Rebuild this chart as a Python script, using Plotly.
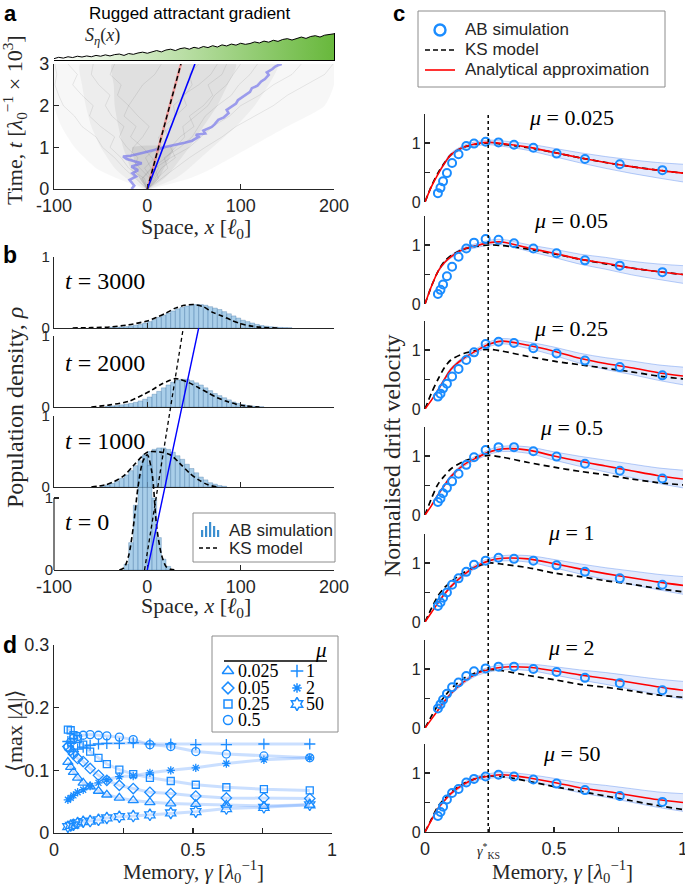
import plotly.graph_objects as go

W, H = 685, 888
SANS = "Liberation Sans"
SERIF = "Liberation Serif"
INK = "#262626"
DOT_BLUE = "#1a8cff"

# ======================= DATA =======================
# ---- panel a : rugged attractant gradient S_eta(x) ----
S_X = list(range(-100, 201, 5))
S_ETA = [0.05, 0.10, 0.07, 0.12, 0.09, 0.14, 0.11, 0.15, 0.12, 0.17, 0.14, 0.19, 0.15, 0.20, 0.22,
         0.17, 0.24, 0.21, 0.26, 0.29, 0.25, 0.31, 0.35, 0.30, 0.37, 0.40, 0.35, 0.42, 0.45, 0.40,
         0.47, 0.43, 0.50, 0.46, 0.53, 0.48, 0.56, 0.52, 0.59, 0.55, 0.62, 0.58, 0.61, 0.67, 0.63,
         0.70, 0.66, 0.73, 0.69, 0.76, 0.79, 0.74, 0.81, 0.85, 0.80, 0.87, 0.90, 0.85, 0.92, 0.94, 0.97]

# ---- panel a : trajectory cloud envelopes (x at given times, t in 10^3) ----
CLOUD_T = [0, 0.25, 0.5, 1.0, 1.5, 2.0, 2.5, 3.0]
OUTER_L = [-4, -32, -55, -78, -92, -100, -100, -100]
OUTER_R = [4, 45, 70, 110, 150, 190, 200, 200]
MID_L = [-3, -22, -35, -50, -60, -66, -70, -72]
MID_R = [3, 30, 45, 70, 95, 115, 130, 140]
INNER_L = [-2, -12, -18, -26, -31, -35, -36, -38]
INNER_R = [2, 18, 28, 45, 60, 75, 86, 95]
CORE_L = [-1, -8, -12, -15, -16]
CORE_R = [1, 12, 18, 25, 28]
CORE_T = [0, 0.25, 0.5, 0.8, 1.0]

TRAJ_T = [0, 0.25, 0.5, 0.75, 1.0, 1.25, 1.5, 1.75, 2.0, 2.25, 2.5, 2.75, 3.0]
TRAJ_1 = [0, -8, -15, -10, -22, -30, -25, -38, -45, -40, -52, -60, -58]
TRAJ_2 = [0, 10, 22, 18, 35, 48, 55, 62, 75, 90, 98, 110, 118]
TRAJ_3 = [0, 5, -3, 8, 15, 12, 25, 30, 28, 40, 48, 45, 55]
TRAJ_4 = [0, -12, -25, -35, -48, -55, -70, -78, -90, -95, -99, -97, -99]
TRAJ_5 = [0, 15, 30, 45, 62, 80, 95, 115, 135, 150, 170, 190, 199]
TRAJ_6 = [0, -5, 5, 20, 30, 40, 38, 52, 65, 72, 85, 92, 100]
TRAJ_7 = [0, 3, -8, -18, -15, -5, 2, -10, -20, -12, -5, 8, 15]
TRAJ_8 = [0, 8, 15, 30, 25, 35, 50, 45, 60, 70, 65, 80, 85]
TRAJ_9 = [0, -3, -20, -28, -40, -35, -50, -62, -58, -70, -80, -75, -85]
TRAJ_10 = [0, 12, 8, 25, 45, 58, 70, 88, 100, 120, 135, 155, 165]
TRAJ_11 = [0, -6, 4, -2, 10, 22, 18, 30, 42, 38, 55, 68, 75]
TRAJ_12 = [0, 6, 12, 5, -5, -18, -12, -25, -20, -32, -28, -40, -35]

LAV_X = [-17, -14, -19, -12, -16, -10, -17, -6, -13, -22, -26, -18, -10, -2, 8, 14, 19, 28, 40, 48,
         55, 52, 62, 60, 69, 72, 76, 82, 87, 85, 90, 95, 97, 102, 105, 110, 112, 118, 122, 126, 130,
         128, 134, 137, 140, 144]
LAV_T = [0.0, 0.08, 0.22, 0.3, 0.38, 0.45, 0.54, 0.62, 0.66, 0.72, 0.78, 0.8, 0.84, 0.88, 0.93, 0.97,
         1.01, 1.05, 1.11, 1.16, 1.25, 1.3, 1.33, 1.4, 1.49, 1.55, 1.66, 1.72, 1.82, 1.9, 1.97, 2.05,
         2.13, 2.2, 2.26, 2.33, 2.42, 2.48, 2.58, 2.64, 2.74, 2.8, 2.88, 2.94, 2.97, 3.0]

DRIFT_T = [0, 3]
DRIFT_AB_A = [0, 51]
DRIFT_KS_A = [0, 36]

# ---- panel b : population density histograms (bin width 5) ----
BIN_W = 5
H0_X = [-22.5, -17.5, -12.5, -7.5, -2.5, 2.5, 7.5, 12.5, 17.5, 22.5]
H0_Y = [0.08, 0.38, 0.9, 1.32, 1.6, 1.45, 1.0, 0.45, 0.15, 0.05]
H1_X = [-47.5, -42.5, -37.5, -32.5, -27.5, -22.5, -17.5, -12.5, -7.5, -2.5, 2.5, 7.5, 12.5, 17.5,
        22.5, 27.5, 32.5, 37.5, 42.5, 47.5, 52.5, 57.5, 62.5, 67.5, 72.5, 77.5, 82.5]
H1_Y = [0.01, 0.03, 0.05, 0.08, 0.12, 0.17, 0.23, 0.30, 0.37, 0.44, 0.50, 0.53, 0.55, 0.55, 0.53,
        0.49, 0.44, 0.39, 0.32, 0.26, 0.20, 0.14, 0.10, 0.06, 0.04, 0.02, 0.01]
H2_X = [-42.5, -37.5, -32.5, -27.5, -22.5, -17.5, -12.5, -7.5, -2.5, 2.5, 7.5, 12.5, 17.5, 22.5,
        27.5, 32.5, 37.5, 42.5, 47.5, 52.5, 57.5, 62.5, 67.5, 72.5, 77.5, 82.5, 87.5, 92.5, 97.5,
        102.5, 107.5, 112.5, 117.5, 122.5]
H2_Y = [0.01, 0.015, 0.02, 0.03, 0.04, 0.05, 0.065, 0.085, 0.11, 0.14, 0.18, 0.22, 0.27, 0.31,
        0.35, 0.38, 0.39, 0.39, 0.37, 0.34, 0.31, 0.27, 0.23, 0.19, 0.16, 0.13, 0.10, 0.07, 0.05,
        0.035, 0.02, 0.012, 0.007, 0.003]
H3_X = [-37.5, -32.5, -27.5, -22.5, -17.5, -12.5, -7.5, -2.5, 2.5, 7.5, 12.5, 17.5, 22.5, 27.5,
        32.5, 37.5, 42.5, 47.5, 52.5, 57.5, 62.5, 67.5, 72.5, 77.5, 82.5, 87.5, 92.5, 97.5, 102.5,
        107.5, 112.5, 117.5, 122.5, 127.5, 132.5, 137.5, 142.5, 147.5, 152.5]
H3_Y = [0.01, 0.012, 0.015, 0.02, 0.03, 0.04, 0.05, 0.07, 0.09, 0.12, 0.15, 0.18, 0.21, 0.24,
        0.27, 0.29, 0.31, 0.32, 0.33, 0.33, 0.32, 0.30, 0.28, 0.26, 0.23, 0.20, 0.17, 0.14, 0.11,
        0.09, 0.07, 0.05, 0.035, 0.025, 0.018, 0.012, 0.008, 0.005, 0.003]

KS0_X = [-30, -25, -20, -15, -10, -5, 0, 5, 10, 15, 20, 25, 30]
KS0_Y = [0, 0.03, 0.2, 0.6, 1.15, 1.5, 1.6, 1.35, 0.6, 0.22, 0.05, 0.01, 0]
KS1_X = [-60, -45, -35, -25, -15, -5, 0, 5, 15, 25, 35, 45, 55, 65, 75]
KS1_Y = [0, 0.03, 0.08, 0.16, 0.3, 0.44, 0.49, 0.5, 0.49, 0.45, 0.33, 0.2, 0.1, 0.03, 0]
KS2_X = [-60, -40, -20, -5, 5, 15, 25, 30, 35, 45, 55, 65, 75, 85, 95, 105, 120]
KS2_Y = [0, 0.03, 0.08, 0.17, 0.24, 0.32, 0.38, 0.4, 0.39, 0.34, 0.27, 0.2, 0.13, 0.08, 0.04, 0.015, 0]
KS3_X = [-80, -60, -40, -20, 0, 10, 20, 30, 40, 50, 60, 70, 80, 90, 100, 110, 120, 140]
KS3_Y = [0, 0.005, 0.015, 0.045, 0.1, 0.15, 0.21, 0.28, 0.32, 0.33, 0.3, 0.22, 0.17, 0.11, 0.06,
         0.03, 0.012, 0]
B_LABELS = ["3000", "2000", "1000", "0"]

DRIFT_AB_B = [0, 55]
DRIFT_KS_B = [-3, 38.5]

# ---- panel c : normalised drift velocity ----
GAMMA_KS = 0.245
GAMMA = [0.05, 0.06, 0.07, 0.085, 0.105, 0.13, 0.16, 0.19, 0.235, 0.285, 0.345, 0.42, 0.51,
         0.62, 0.755, 0.92]
G_CURVE = [0, 0.025, 0.05, 0.075, 0.1, 0.15, 0.2, 0.25, 0.3, 0.4, 0.5, 0.6, 0.7, 0.8, 0.9, 1.0]
BAND_HALF = [0.02, 0.02, 0.025, 0.03, 0.035, 0.04, 0.045, 0.055, 0.07, 0.085, 0.1, 0.115, 0.13, 0.15]
MU_LABELS = ["0.025", "0.05", "0.25", "0.5", "1", "2", "50"]

AN_0025 = [0, 0.26, 0.47, 0.65, 0.80, 0.93, 0.99, 1.01, 0.99, 0.93, 0.84, 0.75, 0.67, 0.6, 0.54, 0.49]
AN_005 = [0, 0.3, 0.55, 0.7, 0.8, 0.93, 0.99, 1.04, 1.05, 0.95, 0.86, 0.76, 0.69, 0.61, 0.55, 0.5]
AN_025 = [0, 0.15, 0.32, 0.5, 0.67, 0.86, 0.99, 1.1, 1.15, 1.08, 0.98, 0.86, 0.77, 0.7, 0.62, 0.56]
AN_05 = [0, 0.16, 0.34, 0.5, 0.65, 0.85, 0.97, 1.07, 1.12, 1.1, 1.0, 0.91, 0.83, 0.75, 0.67, 0.61]
AN_1 = [0, 0.16, 0.32, 0.47, 0.6, 0.8, 0.95, 1.04, 1.08, 1.07, 0.99, 0.9, 0.82, 0.75, 0.68, 0.62]
AN_2 = [0, 0.15, 0.3, 0.45, 0.58, 0.78, 0.92, 0.99, 1.03, 1.03, 0.97, 0.9, 0.84, 0.77, 0.7, 0.64]
AN_50 = [0, 0.2, 0.4, 0.53, 0.65, 0.81, 0.91, 0.95, 0.97, 0.92, 0.84, 0.75, 0.69, 0.62, 0.55, 0.5]

KS_0025 = [0, 0.27, 0.49, 0.66, 0.80, 0.93, 0.98, 1.0, 0.98, 0.92, 0.84, 0.75, 0.67, 0.6, 0.54, 0.49]
KS_005 = [0, 0.3, 0.55, 0.72, 0.82, 0.93, 0.98, 1.0, 0.99, 0.93, 0.85, 0.76, 0.68, 0.61, 0.55, 0.5]
KS_025 = [0, 0.27, 0.5, 0.7, 0.83, 0.94, 0.99, 1.01, 0.98, 0.89, 0.81, 0.75, 0.69, 0.63, 0.56, 0.51]
KS_05 = [0, 0.28, 0.52, 0.66, 0.78, 0.91, 0.98, 1.01, 0.98, 0.89, 0.81, 0.74, 0.68, 0.61, 0.55, 0.51]
KS_1 = [0, 0.23, 0.44, 0.58, 0.68, 0.84, 0.94, 1.0, 0.98, 0.92, 0.83, 0.77, 0.7, 0.64, 0.57, 0.51]
KS_2 = [0, 0.2, 0.39, 0.53, 0.66, 0.84, 0.94, 0.99, 0.97, 0.89, 0.82, 0.74, 0.69, 0.63, 0.56, 0.52]
KS_50 = [0, 0.22, 0.43, 0.56, 0.67, 0.82, 0.91, 0.95, 0.94, 0.86, 0.77, 0.69, 0.61, 0.53, 0.45, 0.38]

AB_0025 = [0.15, 0.24, 0.35, 0.49, 0.66, 0.81, 0.95, 0.99, 1.02, 1.01, 0.97, 0.92, 0.82, 0.73, 0.64, 0.54]
AB_005 = [0.17, 0.24, 0.33, 0.47, 0.63, 0.80, 0.94, 1.04, 1.10, 1.09, 1.03, 0.94, 0.86, 0.74, 0.65, 0.54]
AB_025 = [0.21, 0.26, 0.35, 0.43, 0.55, 0.68, 0.83, 0.96, 1.10, 1.14, 1.12, 1.03, 0.94, 0.82, 0.71, 0.57]
AB_05 = [0.22, 0.28, 0.37, 0.46, 0.57, 0.70, 0.85, 0.98, 1.10, 1.15, 1.15, 1.08, 0.99, 0.87, 0.75, 0.62]
AB_1 = [0.27, 0.33, 0.41, 0.50, 0.63, 0.74, 0.85, 0.97, 1.04, 1.09, 1.07, 1.04, 0.96, 0.85, 0.74, 0.63]
AB_2 = [0.33, 0.40, 0.48, 0.58, 0.69, 0.77, 0.88, 0.96, 1.01, 1.04, 1.04, 1.00, 0.95, 0.85, 0.76, 0.64]
AB_50 = [0.27, 0.34, 0.43, 0.55, 0.66, 0.73, 0.84, 0.90, 0.94, 0.97, 0.94, 0.89, 0.82, 0.71, 0.61, 0.51]

# ---- panel d : <max|Lambda|> vs memory ----
D_0025 = [0.113, 0.105, 0.097, 0.088, 0.080, 0.074, 0.067, 0.061, 0.056, 0.052, 0.049, 0.047,
          0.046, 0.045, 0.043, 0.045]
D_005 = [0.138, 0.132, 0.126, 0.119, 0.114, 0.103, 0.092, 0.084, 0.076, 0.071, 0.065, 0.063,
         0.059, 0.056, 0.056, 0.055]
D_025 = [0.165, 0.164, 0.156, 0.150, 0.141, 0.130, 0.120, 0.110, 0.101, 0.094, 0.088, 0.083,
         0.077, 0.073, 0.070, 0.068]
D_05 = [0.137, 0.145, 0.151, 0.154, 0.156, 0.157, 0.156, 0.155, 0.153, 0.149, 0.141, 0.138,
        0.130, 0.126, 0.123, 0.120]
D_1 = [0.146, 0.143, 0.130, 0.134, 0.137, 0.140, 0.142, 0.143, 0.143, 0.144, 0.142, 0.142,
       0.141, 0.141, 0.142, 0.142]
D_2 = [0.053, 0.056, 0.060, 0.065, 0.069, 0.075, 0.080, 0.085, 0.090, 0.091, 0.096, 0.100,
       0.104, 0.111, 0.117, 0.120]
D_50 = [0.010, 0.012, 0.013, 0.016, 0.018, 0.019, 0.021, 0.024, 0.026, 0.027, 0.029, 0.032,
        0.034, 0.039, 0.041, 0.045]
D_SYMBOLS = ["triangle-up-open", "diamond-open", "square-open", "circle-open",
             "cross-thin", "asterisk", "hexagram-open"]

# ======================= HELPERS =======================
def xd(l, r):
    return [l / W, r / W]


def yd(top, bot):
    return [1 - bot / H, 1 - top / H]


def px(p):
    return p / W


def py(p):
    return 1 - p / H


def nm(kind, n):
    return f"{kind}axis" if n == 1 else f"{kind}axis{n}"


def rf(kind, n):
    return kind if n == 1 else f"{kind}{n}"


AX = dict(showline=True, linecolor=INK, linewidth=1.2, ticks="inside", ticklen=5,
          tickwidth=1.1, tickcolor=INK, showgrid=False, zeroline=False, fixedrange=True,
          automargin=False, ticklabeloverflow="allow",
          tickfont=dict(family=SANS, size=18, color=INK))
HID = dict(visible=False, showgrid=False, zeroline=False, fixedrange=True, automargin=False)


def minor(vals):
    return dict(tickmode="array", tickvals=vals, ticks="inside", ticklen=5, tickwidth=1.1,
                tickcolor=INK, showgrid=False)


layout = dict(width=W, height=H, autosize=False,
              margin=dict(l=0, r=0, t=0, b=0, pad=0, autoexpand=False),
              paper_bgcolor="white", plot_bgcolor="rgba(0,0,0,0)", showlegend=False,
              bargap=0, barmode="overlay")


def axes(n, xdom, ydom, xr, yr, xo, yo):
    xa = dict(xo)
    xa.update(domain=xdom, range=xr, anchor=rf("y", n))
    ya = dict(yo)
    ya.update(domain=ydom, range=yr, anchor=rf("x", n))
    layout[nm("x", n)] = xa
    layout[nm("y", n)] = ya


fig = go.Figure()


def add(tr, n):
    tr.update(xaxis=rf("x", n), yaxis=rf("y", n))
    fig.add_trace(tr)


XA_RANGE = [-100, 200]
XA_TICKS = [-100, 0, 100, 200]
XA_TEXT = ["-100", "0", "100", "200"]

# ======================= PANEL a =======================
axes(1, xd(54, 334), yd(64, 189), XA_RANGE, [0, 3],
     dict(AX, tickvals=XA_TICKS, ticktext=XA_TEXT),
     dict(AX, tickvals=[0, 1, 2, 3], ticktext=["0", "1", "2", "3"]))
axes(2, xd(54, 334), yd(33, 60), XA_RANGE, [0, 1],
     dict(showline=True, linecolor="black", linewidth=1.3, ticks="", showticklabels=False,
          showgrid=False, zeroline=False, fixedrange=True, automargin=False),
     dict(showline=True, linecolor="black", linewidth=1.3, ticks="", showticklabels=False,
          side="right", showgrid=False, zeroline=False, fixedrange=True, automargin=False))

for L, R, T, a in [(OUTER_L, OUTER_R, CLOUD_T, 0.03), (MID_L, MID_R, CLOUD_T, 0.04),
                   (INNER_L, INNER_R, CLOUD_T, 0.05), (CORE_L, CORE_R, CORE_T, 0.07)]:
    add(go.Scatter(x=L + R[::-1], y=T + T[::-1], fill="toself", mode="lines",
                   line=dict(width=0, shape="spline", smoothing=0.6),
                   fillcolor=f"rgba(0,0,0,{a})", hoverinfo="skip"), 1)
for tr in [TRAJ_1, TRAJ_2, TRAJ_3, TRAJ_4, TRAJ_5, TRAJ_6, TRAJ_7, TRAJ_8, TRAJ_9, TRAJ_10,
           TRAJ_11, TRAJ_12]:
    add(go.Scatter(x=tr, y=TRAJ_T, mode="lines", line=dict(color="rgba(0,0,0,0.1)", width=0.8)), 1)
add(go.Scatter(x=LAV_X, y=LAV_T, mode="lines", line=dict(color="rgba(120,120,235,0.7)", width=2.6)), 1)
add(go.Scatter(x=DRIFT_KS_A, y=DRIFT_T, mode="lines", line=dict(color="rgba(255,110,110,0.6)", width=2.5)), 1)
add(go.Scatter(x=DRIFT_KS_A, y=DRIFT_T, mode="lines", line=dict(color="black", width=1.5, dash="5px,3px")), 1)
add(go.Scatter(x=DRIFT_AB_A, y=DRIFT_T, mode="lines", line=dict(color="#0000ff", width=1.6)), 1)

add(go.Scatter(x=S_X, y=S_ETA, mode="lines", fill="tozeroy", line=dict(color="black", width=1),
               fillgradient=dict(type="horizontal",
                                 colorscale=[[0, "rgba(255,255,255,1)"], [1, "rgb(104,184,60)"]])), 2)

# ======================= PANEL b =======================
B_TOPS = [257, 336, 416, 440]
B_BOTS = [328, 407, 487, 570]
B_HIST = [(H3_X, H3_Y, KS3_X, KS3_Y), (H2_X, H2_Y, KS2_X, KS2_Y),
          (H1_X, H1_Y, KS1_X, KS1_Y), (H0_X, H0_Y, KS0_X, KS0_Y)]
T0_RANGE_TOP = (570 - 440) / 72.0
for i in range(4):
    n = 3 + i
    last = i == 3
    xo = dict(AX, tickvals=XA_TICKS, ticktext=XA_TEXT, showticklabels=last)
    yo = dict(AX, tickvals=[0, 1], ticktext=["0", "1"], tickfont=dict(family=SANS, size=15, color=INK))
    if last:
        yo["showline"] = False
    axes(n, xd(54, 334), yd(B_TOPS[i], B_BOTS[i]), XA_RANGE, [0, T0_RANGE_TOP if last else 1], xo, yo)
    hx, hy, kx, ky = B_HIST[i]
    add(go.Bar(x=hx, y=hy, width=BIN_W, marker=dict(color="rgba(140,190,225,0.75)",
               line=dict(color="rgba(60,110,160,0.55)", width=0.6))), n)
    add(go.Scatter(x=kx, y=ky, mode="lines", line=dict(color="black", width=1.6, dash="5px,3px",
                   shape="spline", smoothing=0.8)), n)

axes(7, xd(54, 334), yd(328, 570), XA_RANGE, [0, 3], HID, HID)
add(go.Scatter(x=DRIFT_KS_B, y=DRIFT_T, mode="lines", line=dict(color="black", width=1.3, dash="4px,3px")), 7)
add(go.Scatter(x=DRIFT_AB_B, y=DRIFT_T, mode="lines", line=dict(color="#0000ff", width=1.4)), 7)

# ======================= PANEL c =======================
C_ZERO = [202, 304, 409, 515, 622, 728, 832]
C_LABEL_Y = [118, 220, 328, 428, 532, 647, 753]
C_AN = [AN_0025, AN_005, AN_025, AN_05, AN_1, AN_2, AN_50]
C_KS = [KS_0025, KS_005, KS_025, KS_05, KS_1, KS_2, KS_50]
C_AB = [AB_0025, AB_005, AB_025, AB_05, AB_1, AB_2, AB_50]
UNIT_C = 59.0
for i in range(7):
    n = 8 + i
    last = i == 6
    y0 = C_ZERO[i]
    if last:
        xo = dict(AX, tickvals=[0, 0.5, 1], ticktext=["0", "0.5", "1"], minor=minor([0.25, 0.75]))
    else:
        xo = HID
    yo = dict(AX, tickvals=[0, 1], ticktext=["0", "1"], minor=minor([0.5, 1.5]),
              tickfont=dict(family=SANS, size=16, color=INK))
    axes(n, xd(425, 683), yd(y0 - 1.5 * UNIT_C, y0), [0, 1], [0, 1.5], xo, yo)
    an = C_AN[i]
    up = [a + h for a, h in zip(an[2:], BAND_HALF)]
    lo = [a - h for a, h in zip(an[2:], BAND_HALF)]
    add(go.Scatter(x=G_CURVE[2:], y=up, mode="lines", line=dict(color="rgba(90,140,240,0.55)",
                   width=0.8, shape="spline")), n)
    add(go.Scatter(x=G_CURVE[2:], y=lo, mode="lines", fill="tonexty",
                   fillcolor="rgba(110,150,245,0.2)",
                   line=dict(color="rgba(90,140,240,0.55)", width=0.8, shape="spline")), n)
    add(go.Scatter(x=G_CURVE, y=C_KS[i], mode="lines", line=dict(color="black", width=1.7,
                   dash="6px,4px", shape="spline", smoothing=0.8)), n)
    add(go.Scatter(x=G_CURVE, y=an, mode="lines", line=dict(color="#ff0000", width=1.6,
                   shape="spline", smoothing=0.8)), n)
    add(go.Scatter(x=GAMMA, y=C_AB[i], mode="markers",
                   marker=dict(symbol="circle-open", size=8, color=DOT_BLUE,
                               line=dict(width=2, color=DOT_BLUE))), n)

# ======================= PANEL d =======================
axes(15, xd(54, 332), yd(645, 833), [0, 1], [0, 0.3],
     dict(AX, tickvals=[0, 0.5, 1], ticktext=["0", "0.5", "1"], minor=minor([0.25, 0.75])),
     dict(AX, tickvals=[0, 0.1, 0.2, 0.3], ticktext=["0", "0.1", "0.2", "0.3"]))
D_SERIES = [D_0025, D_005, D_025, D_05, D_1, D_2, D_50]
D_SIZES = [9, 8, 7, 8, 8, 7, 9]
for ys in D_SERIES:
    add(go.Scatter(x=GAMMA, y=ys, mode="lines", line=dict(color="rgba(80,150,255,0.3)", width=3)), 15)
for ys, sym, sz in zip(D_SERIES, D_SYMBOLS, D_SIZES):
    add(go.Scatter(x=GAMMA, y=ys, mode="markers",
                   marker=dict(symbol=sym, size=sz, color=DOT_BLUE, line=dict(width=1.3, color=DOT_BLUE))), 15)

# ======================= legend keys (pixel canvas) =======================
axes(16, [0, 1], [0, 1], [0, W], [H, 0], HID, HID)
add(go.Scatter(x=[440], y=[30], mode="markers",
               marker=dict(symbol="circle-open", size=11, color=DOT_BLUE, line=dict(width=2.4, color=DOT_BLUE))), 16)
add(go.Scatter(x=[425, 455], y=[50, 50], mode="lines", line=dict(color="black", width=1.6, dash="5px,3px")), 16)
add(go.Scatter(x=[425, 455], y=[70, 70], mode="lines", line=dict(color="#ff0000", width=1.6)), 16)
add(go.Scatter(x=[199, 220], y=[548, 548], mode="lines", line=dict(color="black", width=1.6, dash="4px,3px")), 16)
D_KEY_POS = [(228, 671), (228, 688), (228, 704), (228, 720), (297, 671), (297, 688), (297, 704)]
for (kx, ky), sym, sz in zip(D_KEY_POS, D_SYMBOLS, D_SIZES):
    add(go.Scatter(x=[kx], y=[ky], mode="markers",
                   marker=dict(symbol=sym, size=sz + 1, color=DOT_BLUE, line=dict(width=1.5, color=DOT_BLUE))), 16)

# ======================= shapes =======================
shapes = []
shapes.append(dict(type="line", xref="paper", yref="paper", x0=px(54), x1=px(54), y0=py(570), y1=py(498),
                   line=dict(color=INK, width=1.2)))
shapes.append(dict(type="line", xref="x8", yref="paper", x0=GAMMA_KS, x1=GAMMA_KS, y0=py(832), y1=py(112),
                   line=dict(color="black", width=1.5, dash="dot")))
for (l, t, r, b) in [(418, 11, 665, 87), (193, 513, 335, 562), (212, 636, 338, 732)]:
    shapes.append(dict(type="rect", xref="paper", yref="paper", x0=px(l), x1=px(r), y0=py(b), y1=py(t),
                       line=dict(color="#8c8c8c", width=1)))
shapes.append(dict(type="line", xref="paper", yref="paper", x0=px(224), x1=px(327), y0=py(661), y1=py(661),
                   line=dict(color="black", width=1.5)))
for bx, bh in [(201, 7), (205, 11), (209, 15), (213, 11), (217, 7)]:
    shapes.append(dict(type="rect", xref="paper", yref="paper", x0=px(bx), x1=px(bx + 2.2),
                       y0=py(537), y1=py(537 - bh), line=dict(width=0), fillcolor="#3c8fd0"))
layout["shapes"] = shapes

# ======================= annotations =======================
anns = []


def ann(text, x, y, size=20, family=SERIF, xanchor="center", angle=0, color=INK):
    anns.append(dict(text=text, x=px(x), y=py(y), xref="paper", yref="paper", showarrow=False,
                     xanchor=xanchor, yanchor="middle", textangle=angle,
                     font=dict(family=family, size=size, color=color)))


ann("<b>a</b>", 10, 13, 22, SANS, color="black")
ann("<b>b</b>", 10, 255, 23, SANS, color="black")
ann("<b>c</b>", 399, 13, 22, SANS, color="black")
ann("<b>d</b>", 10, 645, 23, SANS, color="black")
ann("Rugged attractant gradient", 190, 13, 17, SANS, color="black")
ann("<i>S</i><sub><i>η</i></sub>(<i>x</i>)", 102, 37, 18)
ann("Time, <i>t</i> [<i>λ</i><sub>0</sub><sup>−1</sup> × 10<sup>3</sup>]", 15, 120, 22, angle=-90)
ann("Space, <i>x</i> [<i>ℓ</i><sub>0</sub>]", 196, 228, 22)
ann("Population density, <i>ρ</i>", 15, 408, 24, angle=-90)
ann("Space, <i>x</i> [<i>ℓ</i><sub>0</sub>]", 196, 607, 22)
for lab, yy in zip(B_LABELS, [281, 363, 441, 522]):
    ann(f"<i>t</i> = {lab}", 63, yy, 24, xanchor="left", color="black")
for lab, yy in zip(MU_LABELS, C_LABEL_Y):
    ann(f"<i>μ</i> = {lab}", 571, yy, 22, color="black")
ann("Normalised drift velocity", 392, 455, 24, angle=-90)
ann("Memory, <i>γ</i> [<i>λ</i><sub>0</sub><sup>−1</sup>]", 562, 871, 21)
ann("<i>γ</i><sup>*</sup><sub>KS</sub>", 488, 851, 14)
ann("⟨max |<i>Λ</i>|⟩", 14, 731, 22, angle=-90)
ann("Memory, <i>γ</i> [<i>λ</i><sub>0</sub><sup>−1</sup>]", 193, 871, 21)
ann("AB simulation", 463, 30, 17, SANS, xanchor="left")
ann("KS model", 463, 50, 17, SANS, xanchor="left")
ann("Analytical approximation", 463, 70, 17, SANS, xanchor="left")
ann("AB simulation", 227, 530, 17, SANS, xanchor="left")
ann("KS model", 227, 548, 17, SANS, xanchor="left")
ann("<i>μ</i>", 321, 650, 21, color="black")
D_KEY_TEXT = [("0.025", 236, 671), ("0.05", 236, 688), ("0.25", 236, 704), ("0.5", 236, 720),
              ("1", 304, 671), ("2", 304, 688), ("50", 304, 704)]
for t, x, y in D_KEY_TEXT:
    ann(t, x, y, 18, xanchor="left", color="black")
layout["annotations"] = anns

fig.update_layout(**layout)
fig.write_html("out.html",
               config={"displayModeBar": False, "staticPlot": True},
               post_script="document.body.style.margin='0px';document.body.style.padding='0px';"
                           "document.body.style.overflow='hidden';")
